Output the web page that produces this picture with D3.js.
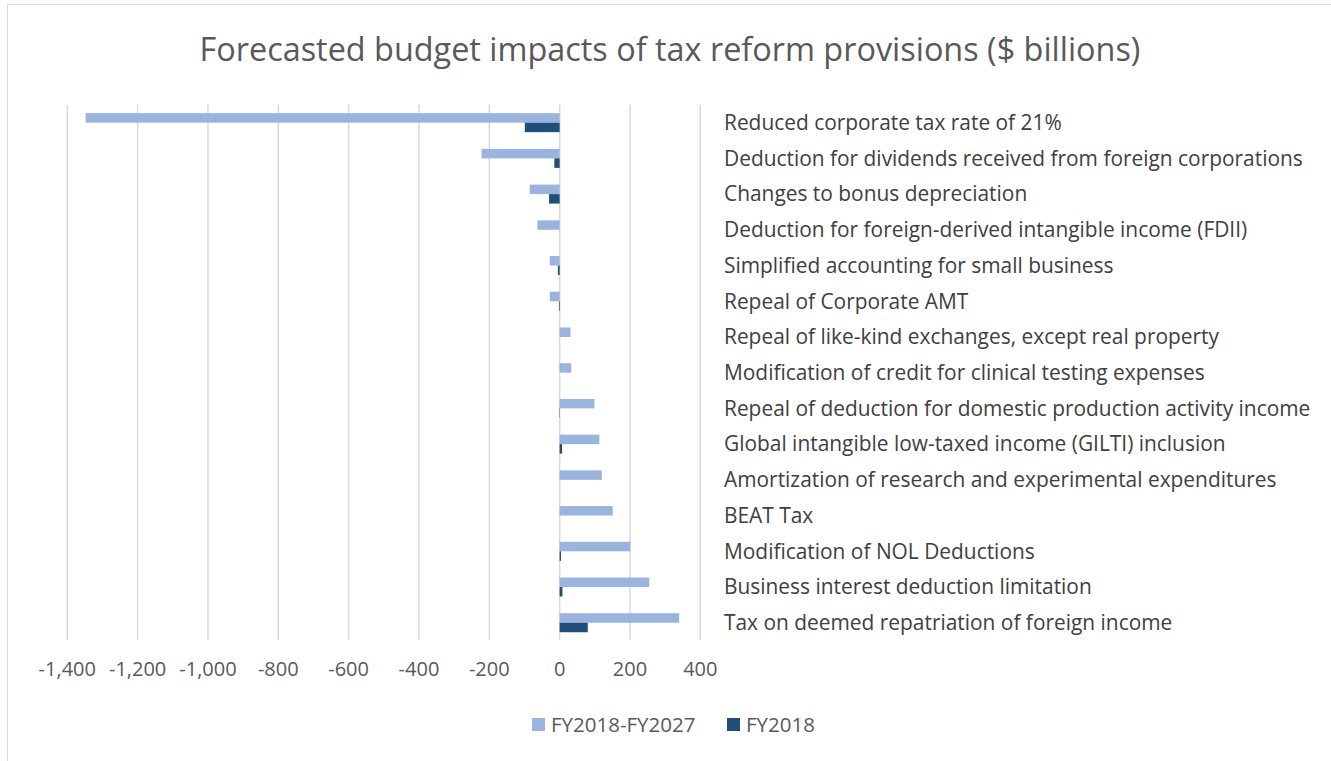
<!DOCTYPE html>
<html>
<head>
<meta charset="utf-8">
<script src="https://cdn.jsdelivr.net/npm/d3@7"></script>
<style>
  html, body { margin: 0; padding: 0; background: #ffffff; }
  svg { display: block; font-family: "Open Sans", "Noto Sans", sans-serif; }
</style>
</head>
<body>
<svg id="chart" width="1331" height="761"></svg>
<script>
const categories = [
  "Reduced corporate tax rate of 21%",
  "Deduction for dividends received from foreign corporations",
  "Changes to bonus depreciation",
  "Deduction for foreign-derived intangible income (FDII)",
  "Simplified accounting for small business",
  "Repeal of Corporate AMT",
  "Repeal of like-kind exchanges, except real property",
  "Modification of credit for clinical testing expenses",
  "Repeal of deduction for domestic production activity income",
  "Global intangible low-taxed income (GILTI) inclusion",
  "Amortization of research and experimental expenditures",
  "BEAT Tax",
  "Modification of NOL Deductions",
  "Business interest deduction limitation",
  "Tax on deemed repatriation of foreign income"
];
const seriesNames = ["FY2018-FY2027", "FY2018"];
const fy2018to2027 = [-1348, -222, -85, -63, -28, -28, 31, 33, 99, 113, 120, 151, 201, 255, 340];
const fy2018 = [-99, -15, -30, 0, -5, -2, 0, 0, 1, 7, 0, 0, 4, 8, 80];
const xTicks = [-1400, -1200, -1000, -800, -600, -400, -200, 0, 200, 400];
const title = "Forecasted budget impacts of tax reform provisions ($ billions)";

const colors = ["#9BB4DF", "#1F4E79"];
const seriesValues = [fy2018to2027, fy2018];

const svg = d3.select("#chart");

// outer frame
svg.append("rect")
  .attr("x", 7.5).attr("y", 4.5)
  .attr("width", 1340).attr("height", 770)
  .attr("fill", "none").attr("stroke", "#d9d9d9").attr("stroke-width", 1);

const x = d3.scaleLinear().domain([-1400, 400]).range([67.3, 700.3]);
const y = d3.scaleBand().domain(categories).range([104.8, 640.6])
  .paddingInner(0.468).paddingOuter(0.234);
const ySub = d3.scaleBand().domain(seriesNames).range([0, y.bandwidth()]);

// title
svg.append("text")
  .attr("x", 670).attr("y", 61)
  .attr("text-anchor", "middle")
  .attr("fill", "#595959")
  .attr("font-size", 32.4)
  .text(title);

// gridlines
svg.append("g").selectAll("line").data(xTicks).join("line")
  .attr("x1", d => x(d)).attr("x2", d => x(d))
  .attr("y1", 104.8).attr("y2", 640)
  .attr("stroke", "#d9d9d9").attr("stroke-width", 1.5);

// bars
const rows = categories.map((c, i) => ({ c, vals: seriesNames.map((s, j) => ({ s, v: seriesValues[j][i], j })) }));
const g = svg.append("g").selectAll("g").data(rows).join("g")
  .attr("transform", d => `translate(0,${y(d.c)})`);
g.selectAll("rect").data(d => d.vals.filter(v => v.v !== 0)).join("rect")
  .attr("x", d => x(Math.min(0, d.v)))
  .attr("width", d => Math.abs(x(d.v) - x(0)))
  .attr("y", d => ySub(d.s))
  .attr("height", ySub.bandwidth())
  .attr("fill", d => colors[d.j]);

// category labels
svg.append("g").selectAll("text").data(categories).join("text")
  .attr("x", 724)
  .attr("y", d => y(d) + y.bandwidth() / 2)
  .attr("dy", "0.35em")
  .attr("fill", "#404040")
  .attr("font-size", 20.9)
  .text(d => d);

// x axis tick labels
const fmt = d => d3.format(",")(d).replace("\u2212", "-");
svg.append("g").selectAll("text").data(xTicks).join("text")
  .attr("x", d => x(d))
  .attr("y", 669)
  .attr("dy", "0.35em")
  .attr("text-anchor", "middle")
  .attr("fill", "#595959")
  .attr("font-size", 20)
  .text(d => fmt(d));

// legend
const legend = svg.append("g");
const legendItems = [{ name: seriesNames[0], x: 532 }, { name: seriesNames[1], x: 727 }];
legendItems.forEach((it, i) => {
  legend.append("rect").attr("x", it.x).attr("y", 718).attr("width", 13).attr("height", 13)
    .attr("fill", colors[i]);
  legend.append("text").attr("x", it.x + 19).attr("y", 724.5).attr("dy", "0.35em")
    .attr("fill", "#595959").attr("font-size", 20.5).text(it.name);
});
</script>
</body>
</html>
